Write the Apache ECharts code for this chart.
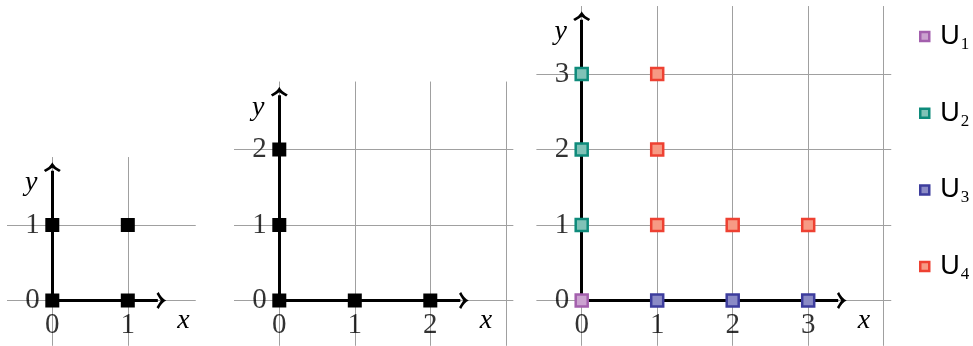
<!DOCTYPE html>
<html lang="en">
<head>
    <meta charset="UTF-8">
    <title>U sets on grids</title>
    <script src="https://cdn.jsdelivr.net/npm/echarts@6/dist/echarts.min.js"></script>
    <style>
        html, body { margin: 0; padding: 0; background: #fff; }
        #main { width: 973px; height: 346px; }
    </style>
</head>
<body>
    <div id="main"></div>
    <script type="text/javascript">
        // points of each panel
        var points1 = [[0, 0], [1, 0], [0, 1], [1, 1]];
        var points2 = [[0, 0], [1, 0], [2, 0], [0, 1], [0, 2]];
        var u1 = [[0, 0]];
        var u2 = [[0, 1], [0, 2], [0, 3]];
        var u3 = [[1, 0], [2, 0], [3, 0]];
        var u4 = [[1, 1], [2, 1], [3, 1], [1, 2], [1, 3]];
        var setNames = ['U1', 'U2', 'U3', 'U4'];

        // grid lines and tick labels
        var xGridVals = [[0, 1], [0, 1, 2, 3], [0, 1, 2, 3, 4]];
        var xLabelVals = [[0, 1], [0, 1, 2], [0, 1, 2, 3]];
        var yGridVals = [[0, 1], [0, 1, 2], [0, 1, 2, 3]];
        // where the axis arrows stop
        var xArrow = [1.51, 2.51, 3.51];
        var yArrow = [1.83, 2.83, 3.83];

        // layout (pixels per unit, origin of each panel, visible ranges)
        var UNIT = 75.5, Y0 = 300.5;
        var layout = [
            { x0: 52.3, xMin: -0.6, xMax: 1.9, yMin: -0.6, yMax: 1.9 },
            { x0: 279.3, xMin: -0.6, xMax: 3.1, yMin: -0.6, yMax: 2.9 },
            { x0: 581.7, xMin: -0.6, xMax: 4.1, yMin: -0.6, yMax: 3.9 }
        ];
        var borderColors = ['#a35fad', '#0e8b7b', '#3d3d9d', '#ee4132'];
        var fillColors = ['#cba2d0', '#80c2b7', '#8b8bc6', '#f79a84'];

        var serif = '"Liberation Serif", "DejaVu Serif", serif';
        var gridLine = { show: true, lineStyle: { color: '#a0a0a0', width: 1, type: 'solid' } };
        // open arrow head; the small tail piece only makes the box square so the head keeps its shape
        var chevron = 'path://M10,0 Q12.5,5.5 20,9 L18,11.5 Q13,8.5 10,6.5 Q7,8.5 2,11.5 L0,9 Q7.5,5.5 10,0 Z M9.8,20 L10.2,20 L10,19.6 Z';
        var ARROW_SIZE = 17;

        var myChart = echarts.init(document.getElementById('main'), null, { renderer: 'canvas' });

        var grids = [], xAxes = [], yAxes = [], series = [];
        layout.forEach(function (p, i) {
            grids.push({
                left: p.x0 + p.xMin * UNIT,
                top: Y0 - p.yMax * UNIT,
                width: (p.xMax - p.xMin) * UNIT,
                height: (p.yMax - p.yMin) * UNIT,
                containLabel: false,
                outerBoundsMode: 'none'
            });
            xAxes.push({
                gridIndex: i,
                type: 'value',
                min: p.xMin,
                max: p.xMax,
                axisLine: { show: true, onZero: true, lineStyle: { color: 'rgba(0,0,0,0)', width: 0 } },
                axisTick: { show: false, customValues: xGridVals[i] },
                axisLabel: { show: false },
                splitLine: gridLine,
                name: 'x',
                nameLocation: 'end',
                nameGap: (xArrow[i] - p.xMax) * UNIT + 11,
                nameMoveOverlap: false,
                nameTextStyle: {
                    color: '#000',
                    fontFamily: serif,
                    fontStyle: 'italic',
                    fontSize: 28,
                    verticalAlign: 'top',
                    padding: [6, 0, 0, 0]
                }
            });
            yAxes.push({
                gridIndex: i,
                type: 'value',
                min: p.yMin,
                max: p.yMax,
                axisLine: { show: true, onZero: true, lineStyle: { color: 'rgba(0,0,0,0)', width: 0 } },
                axisTick: { show: false, customValues: yGridVals[i] },
                axisLabel: { show: false },
                splitLine: gridLine,
                name: 'y',
                nameLocation: 'end',
                nameGap: -40,
                nameMoveOverlap: false,
                nameTextStyle: {
                    color: '#000',
                    fontFamily: serif,
                    fontStyle: 'italic',
                    fontSize: 28,
                    padding: [0, 42, 0, 0]
                }
            });
            // the two axes with arrow heads (symbol is centred on the line end)
            var back = ARROW_SIZE / 2 / UNIT;
            series.push({
                type: 'lines',
                coordinateSystem: 'cartesian2d',
                xAxisIndex: i,
                yAxisIndex: i,
                z: 3,
                silent: true,
                symbol: ['none', chevron],
                symbolSize: ARROW_SIZE,
                lineStyle: { color: '#000', width: 3, opacity: 1 },
                itemStyle: { color: '#000' },
                data: [
                    { coords: [[0, 0], [xArrow[i] - back, 0]] },
                    { coords: [[0, 0], [0, yArrow[i] - back]] }
                ]
            });
            // tick labels, placed on the axes through the scales
            var tickLabel = { color: '#000', fontFamily: serif, fontSize: 29 };
            series.push({
                type: 'scatter', xAxisIndex: i, yAxisIndex: i, z: 12, silent: true,
                symbolSize: 1,
                itemStyle: { color: 'rgba(0,0,0,0)' },
                label: Object.assign({
                    show: true, position: 'bottom', distance: 10,
                    formatter: function (pr) { return String(pr.value[0]); }
                }, tickLabel),
                data: xLabelVals[i].map(function (v) { return [v, 0]; })
            });
            series.push({
                type: 'scatter', xAxisIndex: i, yAxisIndex: i, z: 12, silent: true,
                symbolSize: 1,
                itemStyle: { color: 'rgba(0,0,0,0)' },
                label: Object.assign({
                    show: true, position: 'left', distance: 12,
                    formatter: function (pr) { return String(pr.value[1]); }
                }, tickLabel),
                data: yGridVals[i].map(function (v) { return [0, v]; })
            });
        });

        series.push({
            type: 'scatter', xAxisIndex: 0, yAxisIndex: 0, z: 10,
            symbol: 'rect', symbolSize: 14,
            itemStyle: { color: '#000', opacity: 1 },
            data: points1
        });
        series.push({
            type: 'scatter', xAxisIndex: 1, yAxisIndex: 1, z: 10,
            symbol: 'rect', symbolSize: 14,
            itemStyle: { color: '#000', opacity: 1 },
            data: points2
        });
        [u1, u2, u3, u4].forEach(function (d, k) {
            series.push({
                name: setNames[k],
                type: 'scatter', xAxisIndex: 2, yAxisIndex: 2, z: 10,
                symbol: 'rect', symbolSize: 12,
                itemStyle: {
                    color: fillColors[k],
                    borderColor: borderColors[k],
                    borderWidth: 2.5,
                    opacity: 1
                },
                data: d
            });
        });

        option = {
            animation: false,
            backgroundColor: '#fff',
            grid: grids,
            xAxis: xAxes,
            yAxis: yAxes,
            legend: {
                data: setNames,
                orient: 'vertical',
                left: 914,
                top: 15,
                icon: 'rect',
                itemWidth: 9,
                itemHeight: 9,
                itemGap: 43.7,
                itemStyle: { borderWidth: 2.5 },
                formatter: function (name) {
                    return '{u|U}{s|' + name.slice(1) + '}';
                },
                textStyle: {
                    color: '#000',
                    rich: {
                        u: { fontFamily: '"Liberation Sans", "DejaVu Sans", sans-serif', fontSize: 27, lineHeight: 32, padding: [0, 0, 0, 6], color: '#000' },
                        s: { fontFamily: serif, fontSize: 17, lineHeight: 16, padding: [16, 0, 0, 1], color: '#000' }
                    }
                }
            },
            series: series
        };
        // 使用刚指定的配置项和数据显示图表。
        myChart.setOption(option);
    </script>
</body>
</html>
